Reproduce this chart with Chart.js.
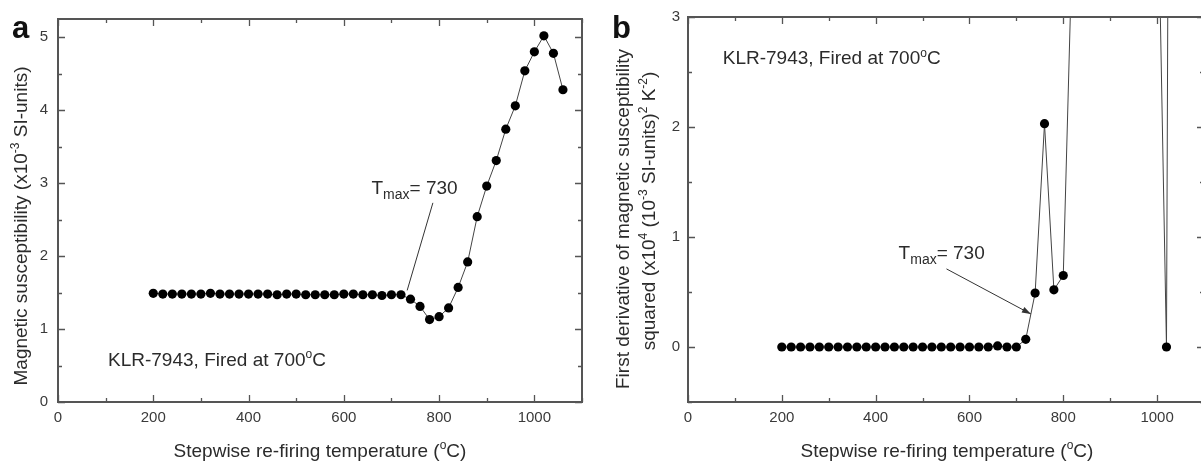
<!DOCTYPE html>
<html lang="en">
<head>
    <meta charset="UTF-8">
    <title>Magnetic susceptibility re-firing</title>
    <script src="https://cdn.jsdelivr.net/npm/chart.js"></script>
    <style>
        body { margin: 0; background: #fff; width: 1201px; height: 461px; overflow: hidden; position: relative; }
        .panel { position: absolute; top: 0; height: 461px; overflow: hidden; }
        #panel-a { left: 0; width: 600px; }
        #panel-b { left: 600px; width: 601px; }
    </style>
</head>
<body>
    <div class="panel" id="panel-a"><canvas id="chartA" width="600" height="461"></canvas></div>
    <div class="panel" id="panel-b"><canvas id="chartB" width="620" height="461"></canvas></div>

    <script>
        // panel a: susceptibility vs re-firing temperature
        const tempA = [200, 220, 240, 260, 280, 300, 320, 340, 360, 380, 400, 420, 440, 460, 480, 500, 520, 540, 560, 580,
                       600, 620, 640, 660, 680, 700, 720, 740, 760, 780, 800, 820, 840, 860, 880, 900, 920, 940, 960, 980,
                       1000, 1020, 1040, 1060];
        const susceptibility = [1.49, 1.48, 1.48, 1.48, 1.48, 1.48, 1.49, 1.48, 1.48, 1.48, 1.48, 1.48, 1.48, 1.47, 1.48, 1.48, 1.47, 1.47, 1.47, 1.47,
                                1.48, 1.48, 1.47, 1.47, 1.46, 1.47, 1.47, 1.41, 1.31, 1.13, 1.17, 1.29, 1.57, 1.92, 2.54, 2.96, 3.31, 3.74, 4.06, 4.54,
                                4.80, 5.02, 4.78, 4.28];

        // panel b: first derivative squared (most of the high values run off the top)
        const tempB = [200, 220, 240, 260, 280, 300, 320, 340, 360, 380, 400, 420, 440, 460, 480, 500, 520, 540, 560, 580,
                       600, 620, 640, 660, 680, 700, 720, 740, 760, 780, 800, 820, 840, 860, 880, 900, 920, 940, 960, 980,
                       1000, 1020, 1040];
        const derivative = [0, 0, 0, 0, 0, 0, 0, 0, 0, 0, 0, 0, 0, 0, 0, 0, 0, 0, 0, 0,
                            0, 0, 0, 0.01, 0, 0, 0.07, 0.49, 2.03, 0.52, 0.65, 3.8, 7.8, 12.2, 38, 17, 12.5, 19, 10.6, 23,
                            4.6, 0, 22];

        const xTickValues = [0, 200, 400, 600, 800, 1000];
        const yTicksA = [0, 1, 2, 3, 4, 5];
        const yTicksB = [0, 1, 2, 3];

        const FONT = "'Liberation Sans', Arial, Helvetica, sans-serif";
        const INK = '#2b2b2b';

        // draws text made of normal / superscript / subscript pieces
        function drawRuns(ctx, parts, x, y, size, align) {
            const fontFor = k => (k === 'sup' ? Math.round(size * 0.62) : k === 'sub' ? Math.round(size * 0.72) : size) + 'px ' + FONT;
            let total = 0;
            parts.forEach(p => { ctx.font = fontFor(p[1]); total += ctx.measureText(p[0]).width; });
            let cx = align === 'center' ? x - total / 2 : x;
            ctx.textAlign = 'left';
            ctx.textBaseline = 'alphabetic';
            parts.forEach(p => {
                ctx.font = fontFor(p[1]);
                const dy = p[1] === 'sup' ? -size * 0.4 : p[1] === 'sub' ? size * 0.28 : 0;
                ctx.fillText(p[0], cx, y + dy);
                cx += ctx.measureText(p[0]).width;
            });
        }

        function drawRotated(ctx, parts, x, y, size) {
            ctx.save();
            ctx.translate(x, y);
            ctx.rotate(-Math.PI / 2);
            drawRuns(ctx, parts, 0, 0, size, 'center');
            ctx.restore();
        }

        // frame on all four sides with inward ticks
        function drawFrame(chart, xMinor, yMinor) {
            const { ctx, chartArea: a, scales: { x, y } } = chart;
            ctx.save();
            ctx.strokeStyle = '#555';
            ctx.lineWidth = 1.3;
            ctx.beginPath();
            for (let v = x.min; v <= x.max + 1e-9; v += xMinor) {
                const px = Math.round(x.getPixelForValue(v)) + 0.5;
                const len = Math.abs(v % (xMinor * 2)) < 1e-9 ? 7 : 4;
                ctx.moveTo(px, a.bottom); ctx.lineTo(px, a.bottom - len);
                ctx.moveTo(px, a.top); ctx.lineTo(px, a.top + len);
            }
            for (let v = y.min; v <= y.max + 1e-9; v += yMinor) {
                const py = Math.round(y.getPixelForValue(v)) + 0.5;
                const len = Math.abs(v - Math.round(v)) < 1e-9 ? 7 : 4;
                ctx.moveTo(a.left, py); ctx.lineTo(a.left + len, py);
                ctx.moveTo(a.right, py); ctx.lineTo(a.right - len, py);
            }
            ctx.stroke();
            ctx.lineWidth = 2;
            ctx.strokeRect(a.left, a.top, a.right - a.left, a.bottom - a.top);
            ctx.restore();
        }

        function drawArrow(ctx, x1, y1, x2, y2, head) {
            ctx.save();
            ctx.strokeStyle = '#333';
            ctx.fillStyle = '#333';
            ctx.lineWidth = 1;
            ctx.beginPath();
            ctx.moveTo(x1, y1);
            ctx.lineTo(x2, y2);
            ctx.stroke();
            if (head) {
                const ang = Math.atan2(y2 - y1, x2 - x1);
                ctx.beginPath();
                ctx.moveTo(x2, y2);
                ctx.lineTo(x2 - 9 * Math.cos(ang) + 3 * Math.sin(ang), y2 - 9 * Math.sin(ang) - 3 * Math.cos(ang));
                ctx.lineTo(x2 - 9 * Math.cos(ang) - 3 * Math.sin(ang), y2 - 9 * Math.sin(ang) + 3 * Math.cos(ang));
                ctx.closePath();
                ctx.fill();
            }
            ctx.restore();
        }

        function baseOptions(yMin, yMax, yTicks, yWidth, rightPad, yPad) {
            return {
                responsive: false,
                animation: false,
                events: [],
                layout: { padding: { top: 17, right: rightPad, bottom: 0, left: 0 } },
                plugins: { legend: { display: false }, tooltip: { enabled: false } },
                scales: {
                    x: {
                        type: 'linear', min: 0, max: 1100,
                        grid: { display: false, drawTicks: false },
                        border: { display: false },
                        afterBuildTicks: s => { s.ticks = xTickValues.map(v => ({ value: v })); },
                        afterFit: s => { s.height = 59; },
                        ticks: { padding: 7, color: '#3a3a3a', font: { family: FONT, size: 15 }, callback: v => String(v) }
                    },
                    y: {
                        type: 'linear', min: yMin, max: yMax,
                        grid: { display: false, drawTicks: false },
                        border: { display: false },
                        afterBuildTicks: s => { s.ticks = yTicks.map(v => ({ value: v })); },
                        afterFit: s => { s.width = yWidth; },
                        ticks: { padding: yPad, color: '#3a3a3a', font: { family: FONT, size: 15 }, callback: v => String(v) }
                    }
                }
            };
        }

        function series(xs, ys) {
            return {
                data: xs.map((t, i) => ({ x: t, y: ys[i] })),
                showLine: true,
                borderColor: '#444',
                borderWidth: 1,
                pointRadius: 4.6,
                pointBackgroundColor: '#000',
                pointBorderWidth: 0
            };
        }

        const degC = [['Stepwise re-firing temperature (', ''], ['o', 'sup'], ['C)', '']];
        const klr = [['KLR-7943, Fired at 700', ''], ['o', 'sup'], ['C', '']];
        const tmax = [['T', ''], ['max', 'sub'], ['= 730', '']];

        new Chart(document.getElementById('chartA'), {
            type: 'scatter',
            data: { datasets: [series(tempA, susceptibility)] },
            options: baseOptions(0, 5.25, yTicksA, 58, 18, 10),
            plugins: [{
                id: 'decoA',
                afterDatasetsDraw(chart) {
                    const { ctx, scales: { x, y } } = chart;
                    drawFrame(chart, 100, 0.5);
                    ctx.save();
                    ctx.fillStyle = INK;
                    drawArrow(ctx, x.getPixelForValue(787), y.getPixelForValue(2.73), x.getPixelForValue(733), y.getPixelForValue(1.53), false);
                    drawRuns(ctx, tmax, x.getPixelForValue(658), y.getPixelForValue(2.85), 19, 'left');
                    drawRuns(ctx, klr, x.getPixelForValue(105), y.getPixelForValue(0.5), 19, 'left');
                    drawRuns(ctx, degC, 320, 457, 19, 'center');
                    drawRotated(ctx, [['Magnetic susceptibility (x10', ''], ['-3', 'sup'], [' SI-units)', '']], 27, 226, 19);
                    ctx.fillStyle = '#111';
                    ctx.font = 'bold 31px ' + FONT;
                    ctx.fillText('a', 12, 38);
                    ctx.restore();
                }
            }]
        });

        new Chart(document.getElementById('chartB'), {
            type: 'scatter',
            data: { datasets: [series(tempB, derivative)] },
            options: baseOptions(-0.5, 3, yTicksB, 88, 16, 8),
            plugins: [{
                id: 'decoB',
                afterDatasetsDraw(chart) {
                    const { ctx, scales: { x, y } } = chart;
                    drawFrame(chart, 100, 0.5);
                    ctx.save();
                    ctx.fillStyle = INK;
                    drawArrow(ctx, x.getPixelForValue(551), y.getPixelForValue(0.71), x.getPixelForValue(731), y.getPixelForValue(0.30), true);
                    drawRuns(ctx, tmax, x.getPixelForValue(449), y.getPixelForValue(0.80), 19, 'left');
                    drawRuns(ctx, klr, x.getPixelForValue(74), y.getPixelForValue(2.57), 19, 'left');
                    drawRuns(ctx, degC, 347, 457, 19, 'center');
                    drawRotated(ctx, [['First derivative of magnetic susceptibility', '']], 29, 219, 19);
                    drawRotated(ctx, [['squared (x10', ''], ['4', 'sup'], [' (10', ''], ['-3', 'sup'], [' SI-units)', ''], ['2', 'sup'], [' K', ''], ['-2', 'sup'], [')', '']], 55, 211, 19);
                    ctx.fillStyle = '#111';
                    ctx.font = 'bold 31px ' + FONT;
                    ctx.fillText('b', 12, 38);
                    ctx.restore();
                }
            }]
        });
    </script>
</body>
</html>
